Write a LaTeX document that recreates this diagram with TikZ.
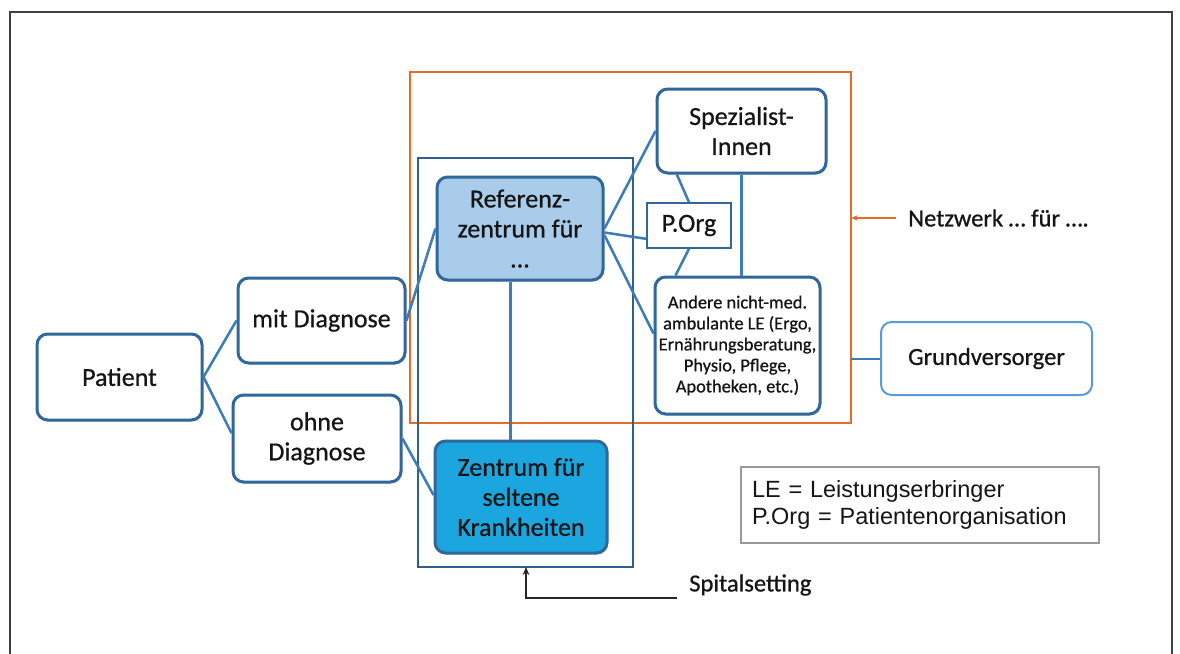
\documentclass[tikz,border=0pt]{standalone}
\usepackage{fontspec}
\setmainfont{Carlito}[RawFeature={embolden=0.7}]
\newfontfamily\legendfont{Liberation Sans}
\usetikzlibrary{arrows.meta,shadows}
\newdimen\pxu \pxu=0.75pt
\definecolor{nodeblue}{HTML}{31679A}
\definecolor{linkblue}{HTML}{3E7CB6}
\definecolor{hospblue}{HTML}{2F5F8C}
\definecolor{refill}{HTML}{A9CCEA}
\definecolor{zentfill}{HTML}{1BA6DF}
\definecolor{netorange}{HTML}{E46C2A}
\definecolor{grundblue}{HTML}{5B9BD5}
\definecolor{txt}{HTML}{151515}
\begin{document}
\begin{tikzpicture}[x=0.75pt,y=-0.75pt,
  box/.style={draw=nodeblue, line width=2.25pt, rounded corners=8pt, fill=white,
    align=center, text=txt, inner sep=0pt,
    font=\fontsize{19.5}{22.5}\selectfont,
    drop shadow={opacity=0.25, shadow xshift=0.8pt, shadow yshift=-1.2pt}},
  conn/.style={draw=linkblue, line width=1.9pt},
  lbl/.style={inner sep=0pt, text=txt, font=\fontsize{18.4}{22}\selectfont},
]
\useasboundingbox (0,0) rectangle (1180,653);
\fill[white] (0,0) rectangle (1180,653);
% outer frame
\draw[line width=1.5pt, draw=black!75] (10,660) -- (10,12) -- (1172,12) -- (1172,660);

% orange network rectangle and hospital rectangle
\coordinate (onw) at (410,72);
\coordinate (ose) at (851,423);
\coordinate (hnw) at (418,158);
\coordinate (hse) at (633,567);
\draw[draw=netorange, line width=1.9pt] (onw) rectangle (ose);
\draw[draw=hospblue, line width=1.5pt] (hnw) rectangle (hse);

% nodes
\node[box, minimum width=165\pxu, minimum height=86\pxu] (pat) at (119.5,377) {Patient};
\node[box, minimum width=167\pxu, minimum height=85\pxu] (mit) at (321.5,320.5) {mit Diagnose};
\node[box, minimum width=168\pxu, minimum height=87\pxu] (ohne) at (317,438.5) {ohne\\Diagnose};
\node[box, fill=refill, minimum width=166\pxu, minimum height=103\pxu] (ref) at (520,228.5) {Referenz-\\zentrum für\\\raisebox{0pt}[0pt][0pt]{...}};
\node[box, fill=zentfill, minimum width=172\pxu, minimum height=112\pxu] (zent) at (521,497) {Zentrum für\\seltene\\Krankheiten};
\node[box, minimum width=169\pxu, minimum height=84\pxu] (spez) at (741.5,131) {Spezialist-\\Innen};
\node[draw=nodeblue, line width=1.2pt, fill=white, inner sep=0pt, text=txt,
  font=\fontsize{19.5}{22.5}\selectfont,
  minimum width=84\pxu, minimum height=45\pxu] (porg) at (689,225.5) {P.Org};
\node[box, minimum width=165\pxu, minimum height=137\pxu,
  font=\fontsize{13.8}{15.75}\selectfont] (andere) at (737.5,345.5)
  {Andere nicht-med.\\ambulante LE (Ergo,\\Ernährungsberatung,\\Physio, Pflege,\\Apotheken, etc.)};
\node[draw=grundblue, line width=1.5pt, rounded corners=8pt, fill=white, text=txt,
  font=\fontsize{18.4}{22}\selectfont, inner sep=0pt,
  minimum width=211\pxu, minimum height=73\pxu] (grund) at (986.5,358.5) {Grundversorger};
\node[draw=black!40, line width=0.8pt, fill=white, inner xsep=11\pxu, inner ysep=0pt,
  text width=336\pxu, align=left, minimum height=76\pxu, text=txt,
  font=\legendfont\fontsize{17.6}{20.3}\selectfont] (legend) at (920,505)
  {LE = Leistungserbringer\\P.Org = Patientenorganisation};
\node[lbl, anchor=west] (netz) at (908,218) {Netzwerk … für ….};
\node[lbl, anchor=west] (spital) at (689,585) {Spitalsetting};

% connectors
\draw[conn] (pat.east) -- (mit.west);
\draw[conn] (pat.east) -- ([yshift=4pt]ohne.west);
\draw[conn] (mit.east) -- (ref.west);
\draw[conn] (ohne.east) -- ([yshift=1.5pt]zent.west);
\draw[conn] (ref.east) -- (spez.west);
\draw[conn] ([yshift=-3pt]ref.east) -- ([yshift=-10pt]porg.west);
\draw[conn] ([yshift=-5pt]ref.east) -- ([yshift=9pt]andere.west);
\draw[conn] ([xshift=16pt]spez.south west) -- (porg.north);
\draw[conn] (porg.south) -- ([xshift=16.5pt]andere.north west);
\draw[conn] (spez.south) -- (spez.south |- andere.north);
\draw[conn] ([xshift=-7pt]ref.south) -- ([xshift=-7pt]ref.south |- zent.north);
\draw[draw=linkblue, line width=1.5pt] (grund.west) -- (grund.west -| ose);
\draw[draw=netorange, line width=1.2pt, -{Stealth[length=5pt,width=4pt]}]
  ([xshift=-9pt]netz.west) -- (netz.west -| ose);
\coordinate (sbend) at (526,598);
\draw[draw=black!85, line width=1.5pt, -{Stealth[length=6pt,width=5pt]}]
  ([xshift=-9pt]spital.west |- sbend) -- (sbend) -- (sbend |- hse);
\end{tikzpicture}
\end{document}
